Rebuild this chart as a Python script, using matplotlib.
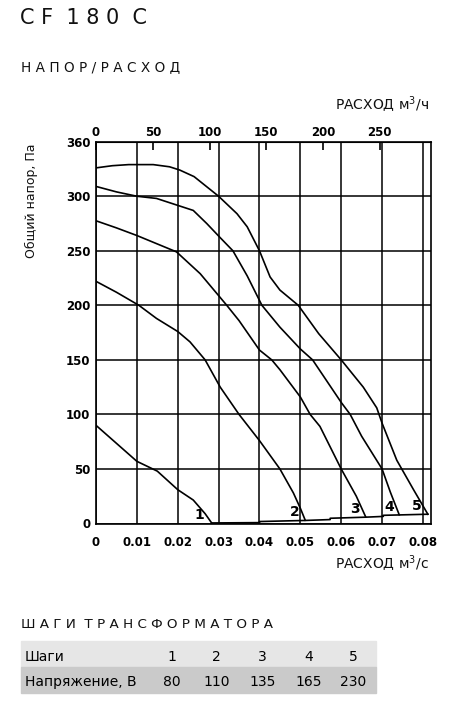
import numpy as np
import matplotlib
matplotlib.use("Agg")
from matplotlib import pyplot as plt
from matplotlib.patches import Rectangle

# Кривые напор/расход, Q в м3/с, P в Па
q1 = [0, 0.005, 0.01, 0.015, 0.02, 0.0238, 0.0267, 0.0283]
p1 = [90, 73.5, 57, 48, 31, 21.5, 9, 0.5]

q2 = [0, 0.005, 0.0105, 0.0148, 0.02, 0.023, 0.0267, 0.0304, 0.035, 0.040, 0.045, 0.0483, 0.050, 0.0512]
p2 = [222, 212, 200, 188, 176, 166.5, 150, 125, 100, 76, 50, 28, 14, 3]

q3 = [0, 0.005, 0.01, 0.0197, 0.0255, 0.032, 0.035, 0.040, 0.043, 0.045, 0.050, 0.0524, 0.0548, 0.060, 0.0637, 0.066]
p3 = [277.5, 271, 264, 249, 229, 200, 186, 159, 150, 141, 116, 100, 89, 50, 25, 6]

q4 = [0, 0.005, 0.01, 0.0148, 0.0197, 0.0238, 0.0271, 0.0304, 0.0335, 0.037, 0.0406, 0.045, 0.050, 0.053, 0.060, 0.0622, 0.065, 0.070, 0.072, 0.0742]
p4 = [309, 304, 300, 298, 292, 287, 275, 262, 250, 227, 200, 180, 160, 150, 111, 100, 80, 50, 29, 8]

q5 = [0, 0.004, 0.008, 0.014, 0.018, 0.0205, 0.024, 0.027, 0.030, 0.0345, 0.037, 0.040, 0.0426, 0.045, 0.0495, 0.0545, 0.060, 0.0654, 0.0687, 0.070, 0.0736, 0.0777, 0.0812]
p5 = [326, 328, 329, 329, 327, 324, 318, 309, 300, 284, 272, 250, 226, 214, 200, 174, 150, 125, 106, 92, 58, 31, 8.5]

# линия внизу, соединяющая концы кривых
qb = [0.0283, 0.040, 0.040, 0.0512, 0.0573, 0.0573, 0.066, 0.0703, 0.0703, 0.0812]
pb = [0.5, 0.8, 1.8, 2.8, 3.6, 4.8, 5.8, 6.5, 7.5, 8.5]

curves = [(q1, p1), (q2, p2), (q3, p3), (q4, p4), (q5, p5)]
curve_names = ["1", "2", "3", "4", "5"]

x_ticks = [0, 0.01, 0.02, 0.03, 0.04, 0.05, 0.06, 0.07, 0.08]
x_labels = ["0", "0.01", "0.02", "0.03", "0.04", "0.05", "0.06", "0.07", "0.08"]
y_ticks = [0, 50, 100, 150, 200, 250, 300, 350]
y_labels = ["0", "50", "100", "150", "200", "250", "300", "360"]
top_ticks = [0, 50, 100, 150, 200, 250]

steps = ["1", "2", "3", "4", "5"]
voltage = ["80", "110", "135", "165", "230"]

W, H = 451, 707
fig = plt.figure(figsize=(W / 100, H / 100), dpi=100)
plt.rcParams['font.family'] = ['DejaVu Sans']

def fx(px):
    return px / W

def fy(py):
    return 1 - py / H

# Заголовки
fig.text(fx(20), fy(18.5), "C F  1 8 0  C", fontsize=15, va="center", ha="left", color="#111111")
fig.text(fx(21), fy(67.5), "Н А П О Р / Р А С Х О Д", fontsize=9.8, va="center", ha="left", color="#111111")
fig.text(fx(429), fy(105), "РАСХОД м$^3$/ч", fontsize=10, va="center", ha="right", color="#111111")

# Основной график
ax = fig.add_axes([fx(96), fy(523.5), (430.7 - 96) / W, (523.5 - 141.7) / H])
for q, p in curves:
    ax.plot(q, p, color="black", lw=1.2)
ax.plot(qb, pb, color="black", lw=1.2)

for (q, p), name in zip(curves, curve_names):
    ly = p[-1] + 5
    lx = np.interp(ly, p[::-1], q[::-1]) - 0.0008
    ax.text(lx, ly - 4, name, fontsize=10, fontweight="bold", ha="right", va="bottom")

ax.set_xlim(0, 0.0819)
ax.set_ylim(0, 350)
ax.set_xticks(x_ticks)
ax.set_xticklabels(x_labels, fontweight="bold", fontsize=8.5)
ax.set_yticks(y_ticks)
ax.set_yticklabels(y_labels, fontweight="bold", fontsize=8.5)
ax.tick_params(axis="x", length=0, pad=9)
ax.tick_params(axis="y", length=0, pad=4)
ax.grid(True, color="black", lw=1.1)
for s in ax.spines.values():
    s.set_linewidth(1.2)

secax = ax.secondary_xaxis("top", functions=(lambda q: q * 3600, lambda h: h / 3600))
secax.set_xticks(top_ticks)
secax.set_xticklabels([str(t) for t in top_ticks], fontweight="bold", fontsize=8.5)
secax.tick_params(direction="in", length=6, width=1.2, pad=2)

fig.text(fx(31), fy(201), "Общий напор, Па", fontsize=9, rotation=90, va="center", ha="center", color="#111111")
fig.text(fx(429), fy(564), "РАСХОД м$^3$/с", fontsize=10, va="center", ha="right", color="#111111")

# Таблица шагов трансформатора
fig.text(fx(21), fy(624), "Ш А Г И  Т Р А Н С Ф О Р М А Т О Р А", fontsize=9.7, va="center", ha="left", color="#111111")
fig.patches.append(Rectangle((fx(20.7), fy(666.7)), (376 - 20.7) / W, 26 / H,
                             transform=fig.transFigure, color="#e6e6e6", zorder=0))
fig.patches.append(Rectangle((fx(20.7), fy(693.3)), (376 - 20.7) / W, 26.6 / H,
                             transform=fig.transFigure, color="#cacaca", zorder=0))
fig.text(fx(25), fy(656.7), "Шаги", fontsize=10, va="center", ha="left")
fig.text(fx(25), fy(681.7), "Напряжение, В", fontsize=10, va="center", ha="left")
col_x = [171.7, 216.7, 262.3, 308.3, 353.3]
for cx, s, v in zip(col_x, steps, voltage):
    fig.text(fx(cx), fy(656.7), s, fontsize=10, va="center", ha="center")
    fig.text(fx(cx), fy(681.7), v, fontsize=10, va="center", ha="center")

fig.savefig("out.png", dpi=100)
